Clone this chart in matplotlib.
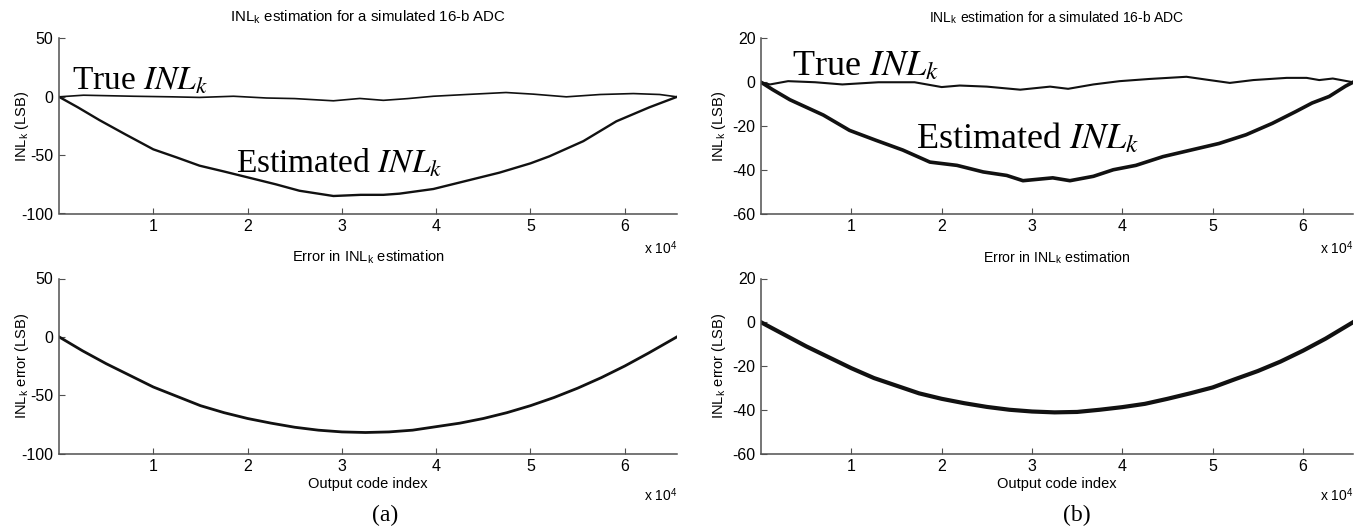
import matplotlib
matplotlib.use("Agg")
import matplotlib.pyplot as plt

plt.rcParams['font.family'] = ['Liberation Sans', 'DejaVu Sans']
plt.rcParams['mathtext.fontset'] = 'stix'
plt.rcParams['axes.unicode_minus'] = False

# x positions are in units of 1e4 output codes
a_true_x = [0, 0.26, 0.79, 1.2, 1.49, 1.85, 2.2, 2.5, 2.91, 3.19, 3.44, 3.7, 3.97, 4.32, 4.74, 5.03, 5.38, 5.74, 6.09, 6.37, 6.5536]
a_true_y = [0, 1.4, 0.5, 0, -0.5, 0.5, -1, -1.5, -3.4, -1.4, -3, -1.5, 0.5, 2, 3.7, 2.3, 0, 2, 2.8, 2, 0]

a_est_x = [0, 0.2, 0.43, 0.7, 1.0, 1.25, 1.49, 1.75, 2.0, 2.3, 2.55, 2.91, 3.2, 3.44, 3.61, 3.97, 4.32, 4.67, 5.0, 5.2, 5.56, 5.91, 6.26, 6.5536]
a_est_y = [0, -9, -20, -32, -45, -52, -59, -64, -69, -75, -80.5, -85, -84, -84, -83, -79, -72, -65, -57, -51, -38, -21, -9, 0]

a_err_x = [0, 0.25, 0.5, 0.75, 1, 1.25, 1.5, 1.75, 2, 2.25, 2.5, 2.75, 3, 3.25, 3.5, 3.75, 4, 4.25, 4.5, 4.75, 5, 5.25, 5.5, 5.75, 6, 6.25, 6.5536]
a_err_y = [0, -12, -23, -33, -43, -51, -59, -65, -70, -74, -77.5, -80, -81.5, -82, -81.5, -80, -77, -74, -70, -65, -59, -52, -44, -35, -25, -14, 0]

b_true_x = [0, 0.1, 0.3, 0.6, 0.9, 1.3, 1.7, 2.0, 2.2, 2.5, 2.87, 3.2, 3.4, 3.68, 3.97, 4.3, 4.71, 4.93, 5.19, 5.45, 5.82, 6.04, 6.18, 6.33, 6.5536]
b_true_y = [0, -1, 0.5, 0, -1, 0, 0, -2.2, -1.5, -2, -3.4, -2, -3, -1, 0.5, 1.5, 2.5, 1.2, -0.3, 1, 2, 2, 1, 1.7, 0]

b_est_x = [0, 0.13, 0.32, 0.69, 0.98, 1.27, 1.57, 1.87, 2.17, 2.46, 2.72, 2.9, 3.23, 3.42, 3.68, 3.9, 4.15, 4.45, 4.78, 5.07, 5.37, 5.66, 5.92, 6.1, 6.29, 6.47, 6.5536]
b_est_y = [0, -3.4, -8, -15, -22, -26.5, -31, -36.5, -38, -41, -42.6, -45, -43.7, -45, -43, -40, -38, -34, -30.8, -28, -24, -18.8, -13.4, -9.5, -6.5, -1.8, 0]

b_err_x = [0, 0.25, 0.5, 0.75, 1, 1.25, 1.5, 1.75, 2, 2.25, 2.5, 2.75, 3, 3.25, 3.5, 3.75, 4, 4.25, 4.5, 4.75, 5, 5.25, 5.5, 5.75, 6, 6.25, 6.5536]
b_err_y = [0, -5.5, -11, -16, -21, -25.5, -29, -32.5, -35, -37, -38.7, -40, -40.8, -41.2, -41, -40, -38.8, -37.3, -35, -32.5, -29.8, -26, -22.3, -18, -13, -7.5, 0]

x_ticks = [1, 2, 3, 4, 5, 6]
top_title = 'INL$_\\mathregular{k}$ estimation for a simulated 16-b ADC'
bottom_title = 'Error in INL$_\\mathregular{k}$ estimation'


def scaled(xs):
    return [v * 1e4 for v in xs]


def style_axes(ax, ylim, yticks, exp_y):
    ax.set_xlim(0, 65536)
    ax.set_ylim(*ylim)
    ax.set_yticks(yticks)
    ax.set_xticks([t * 1e4 for t in x_ticks])
    ax.set_xticklabels([str(t) for t in x_ticks])
    for s in ['top', 'right']:
        ax.spines[s].set_visible(False)
    for s in ['left', 'bottom']:
        ax.spines[s].set_color('#505050')
        ax.spines[s].set_linewidth(1.1)
    ax.tick_params(direction='in', length=4, width=0.8, colors='#505050',
                   labelcolor='black', labelsize=11.5, pad=4)
    ax.text(1.0, exp_y, 'x 10$^\\mathregular{4}$', transform=ax.transAxes,
            ha='right', va='center', fontsize=10)


fig = plt.figure(figsize=(13.67, 5.29), dpi=100)
W, H = 1367.0, 529.0

panels = [
    (59, 677, a_true_x, a_true_y, a_est_x, a_est_y, a_err_x, a_err_y,
     (-100, 50), [-100, -50, 0, 50], 1.2, 1.7, 2.0, 24,
     (0.14, 6.5), (1.88, -65), '(a)', 385, 10.8, 10.5, -0.045),
    (761, 1353, b_true_x, b_true_y, b_est_x, b_est_y, b_err_x, b_err_y,
     (-60, 20), [-60, -40, -20, 0, 20], 1.5, 2.6, 3.0, 26,
     (0.34, 3.1), (1.72, -30.3), '(b)', 1077, 10, 10.2, -0.056),
]

for (x0, x1, tx, ty, ex, ey, rx, ry, ylim, yticks, lw_t, lw_e, lw_r, fs,
     true_pos, est_pos, tag, tag_x, fs_t1, fs_t2, ylab_x) in panels:
    ax1 = fig.add_axes([x0 / W, 1 - 213.5 / H, (x1 - x0) / W, 175 / H])
    ax1.plot(scaled(tx), ty, color='#111111', lw=lw_t)
    ax1.plot(scaled(ex), ey, color='#111111', lw=lw_e)
    style_axes(ax1, ylim, yticks, -0.2)
    ax1.set_title(top_title, fontsize=fs_t1, pad=12)
    ax1.set_ylabel('INL$_\\mathregular{k}$ (LSB)', fontsize=10.5)
    ax1.yaxis.set_label_coords(ylab_x, 0.5)
    ax1.text(true_pos[0] * 1e4, true_pos[1], 'True $INL_k$',
             family='Liberation Serif', fontsize=fs, ha='left', va='baseline')
    ax1.text(est_pos[0] * 1e4, est_pos[1], 'Estimated $INL_k$',
             family='Liberation Serif', fontsize=fs, ha='left', va='baseline')

    ax2 = fig.add_axes([x0 / W, 1 - 453.5 / H, (x1 - x0) / W, 175 / H])
    ax2.plot(scaled(rx), ry, color='#111111', lw=lw_r)
    style_axes(ax2, ylim, yticks, -0.24)
    ax2.set_title(bottom_title, fontsize=fs_t2, pad=12)
    ax2.set_ylabel('INL$_\\mathregular{k}$ error (LSB)', fontsize=10.5)
    ax2.yaxis.set_label_coords(ylab_x, 0.5)
    ax2.set_xlabel('Output code index', fontsize=10.5, labelpad=2)

    fig.text(tag_x / W, 1 - 515 / H, tag, family='Liberation Serif',
             fontsize=17, ha='center', va='center')

fig.savefig('out.png', dpi=100)
